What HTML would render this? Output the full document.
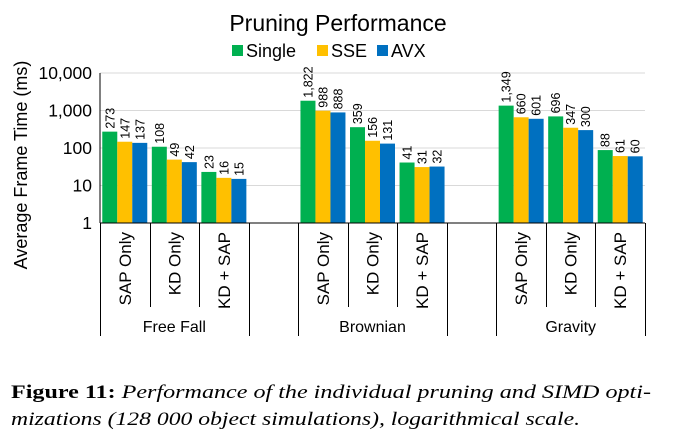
<!DOCTYPE html>
<html><head><meta charset="utf-8">
<style>
html,body{margin:0;padding:0;background:#fff;}
svg{display:block;}
</style></head>
<body>
<svg id="chart" width="675" height="443" viewBox="0 0 675 443" font-family="Liberation Sans, sans-serif">
  <text x="338" y="31" text-anchor="middle" font-size="23" fill="#000">Pruning Performance</text>
  <g id="legend"></g>
  <text transform="translate(27,165) rotate(-90)" text-anchor="middle" font-size="18" fill="#000">Average Frame Time (ms)</text>
  <g id="grid"></g>
  <g id="bars"></g>
  <g id="axes"></g>
  <text font-family="Liberation Serif, serif" font-size="19" x="11" y="398" textLength="640" lengthAdjust="spacingAndGlyphs"><tspan font-weight="bold">Figure 11:</tspan><tspan font-style="italic"> Performance of the individual pruning and SIMD opti-</tspan></text>
  <text font-family="Liberation Serif, serif" font-size="19" x="11" y="425" font-style="italic" textLength="569" lengthAdjust="spacingAndGlyphs">mizations (128 000 object simulations), logarithmical scale.</text>
</svg>
<script>
const groups = ["Free Fall", "Brownian", "Gravity"];
const methods = ["SAP Only", "KD Only", "KD + SAP"];
const seriesNames = ["Single", "SSE", "AVX"];
const singleVals = [273, 108, 23, 1822, 359, 41, 1349, 696, 88];
const sseVals = [147, 49, 16, 988, 156, 31, 660, 347, 61];
const avxVals = [137, 42, 15, 888, 131, 32, 601, 300, 60];
const valueLabels = [
  ["273","108","23","1,822","359","41","1,349","696","88"],
  ["147","49","16","988","156","31","660","347","61"],
  ["137","42","15","888","131","32","601","300","60"]
];
const yTicks = [1, 10, 100, 1000, 10000];
const yTickLabels = ["1", "10", "100", "1,000", "10,000"];

const NS = "http://www.w3.org/2000/svg";
const colors = ["#00b050", "#ffc000", "#0070c0"];
const X0 = 100, X1 = 645, Ybot = 223, Ytop = 73;
const slot = (X1 - X0) / 11;
function y(v){ return Ybot - (Math.log10(v) / 4) * (Ybot - Ytop); }
function slotIndex(i){ const g = Math.floor(i / 3); return g * 4 + (i % 3); }
function mk(tag, attrs, parent){ const e = document.createElementNS(NS, tag); for (const k in attrs) e.setAttribute(k, attrs[k]); parent.appendChild(e); return e; }

const grid = document.getElementById("grid");
const axes = document.getElementById("axes");
const barsG = document.getElementById("bars");
const legend = document.getElementById("legend");

yTicks.forEach((t, i) => {
  if (t > 1) {
    const l = mk("line", {x1: X0, x2: X1, y1: y(t), y2: y(t), stroke: "#d9d9d9", "stroke-width": 1}, grid);
    
    
  }
  const tl = mk("text", {x: 92, y: y(t) + 6, "text-anchor": "end", "font-size": 17.5, fill: "#000"}, axes);
  tl.textContent = yTickLabels[i];
  
  
});

const series = [singleVals, sseVals, avxVals];
const bw = 15;
series.forEach((vals, s) => {
  vals.forEach((v, i) => {
    const sx = X0 + slotIndex(i) * slot + (slot - 3 * bw) / 2 + s * bw;
    const r = mk("rect", {x: sx, y: y(v), width: bw, height: Ybot - y(v), fill: colors[s]}, barsG);
    
    
    const cx = sx + bw / 2 + 4.5;
    const t = mk("text", {transform: `translate(${cx},${y(v) - 3}) rotate(-90)`, "font-size": 12.5, fill: "#000"}, barsG);
    t.textContent = valueLabels[s][i];
    
    
  });
});

const yAxis = mk("line", {x1: X0, x2: X0, y1: Ytop, y2: Ybot, stroke: "#000", "stroke-width": 1}, axes);


const xAxis = mk("line", {x1: X0, x2: X1, y1: Ybot, y2: Ybot, stroke: "#000", "stroke-width": 1}, axes);



for (let k = 0; k <= 11; k++) {
  const x = Math.round(X0 + k * slot) + 0.5;
  const long = (k % 4 === 0) || (k % 4 === 3);
  const l = mk("line", {x1: x, x2: x, y1: Ybot, y2: long ? 336 : 307, stroke: "#000", "stroke-width": 1}, axes);
  
  
}
for (let i = 0; i < 9; i++) {
  const cx = X0 + (slotIndex(i) + 0.5) * slot + 6;
  const t = mk("text", {transform: `translate(${cx},232) rotate(-90)`, "text-anchor": "end", "font-size": 17, fill: "#000"}, axes);
  t.textContent = methods[i % 3];
  
  
}
groups.forEach((g, gi) => {
  const cx = X0 + (gi * 4 + 1.5) * slot;
  const t = mk("text", {x: cx, y: 332, "text-anchor": "middle", "font-size": 16, fill: "#000"}, axes);
  t.textContent = g;
  
  
});

const legX = [232, 317, 377];
seriesNames.forEach((n, i) => {
  const r = mk("rect", {x: legX[i], y: 45, width: 11, height: 11, fill: colors[i]}, legend);
  
  
  const t = mk("text", {x: legX[i] + 14, y: 57, "font-size": 18, fill: "#000"}, legend);
  t.textContent = n;
  
  
});
</script>
</body></html>
